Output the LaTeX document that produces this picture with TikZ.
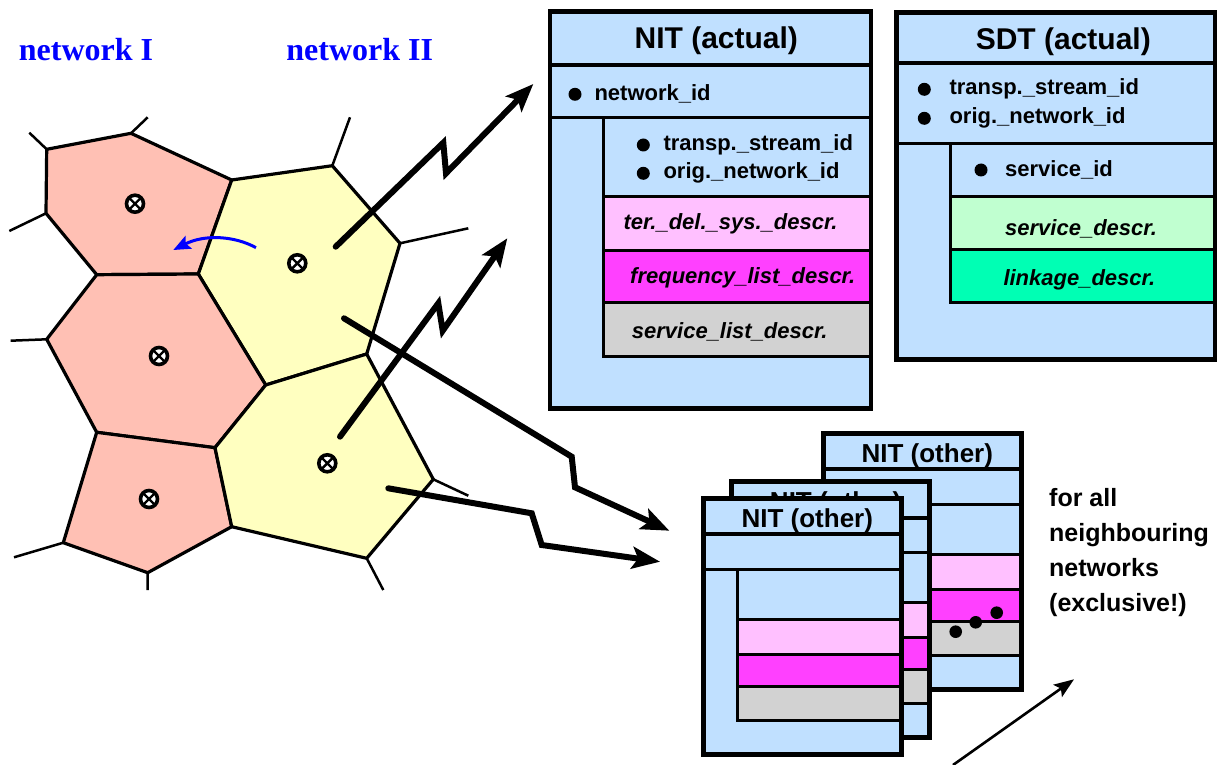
\documentclass[tikz,border=0pt]{standalone}
\usepackage{fontspec}
\setmainfont{Liberation Sans}
\newfontfamily\netserif{Liberation Serif}
\usetikzlibrary{arrows.meta}
\definecolor{boxblue}{RGB}{192,224,255}
\definecolor{pinkrow}{RGB}{255,192,255}
\definecolor{magrow}{RGB}{255,64,255}
\definecolor{grayrow}{RGB}{210,210,210}
\definecolor{greenrow}{RGB}{192,255,208}
\definecolor{tealrow}{RGB}{0,255,180}
\definecolor{cellpink}{RGB}{255,192,180}
\definecolor{cellyellow}{RGB}{255,255,192}
\definecolor{netblue}{RGB}{0,0,255}
\tikzset{
  cellline/.style={draw=black, line width=3.2pt, line join=miter},
  spurline/.style={line width=2.5pt},
  antenna/.style={circle, draw=black, fill=white, line width=3.6pt, minimum size=17pt, inner sep=0pt,
    path picture={\draw[line width=2.4pt] (path picture bounding box.south west) -- (path picture bounding box.north east)
      (path picture bounding box.north west) -- (path picture bounding box.south east);}},
  boxline/.style={line width=4.6pt, line join=miter},
  headline/.style={line width=4pt},
  rowline/.style={line width=3pt},
  titletext/.style={inner sep=0pt, anchor=base, font=\fontsize{30}{36}\selectfont\bfseries},
  othertitle/.style={inner sep=0pt, anchor=base, font=\fontsize{26}{31}\selectfont\bfseries},
  itemtext/.style={inner sep=0pt, anchor=west, font=\fontsize{22}{26}\selectfont\bfseries},
  desctext/.style={inner sep=0pt, anchor=west, font=\fontsize{22}{26}\selectfont\bfseries\itshape},
  nettext/.style={inner sep=0pt, anchor=base, text=netblue, font=\fontsize{32}{38}\selectfont\netserif\bfseries},
  bolt/.style={line width=6pt, line cap=round, line join=miter, -{Stealth[length=28pt,width=22pt,inset=6pt]}},
  nitother/.pic={
    \draw[boxline, fill=boxblue] (0,0) rectangle (198,256);
    \draw[headline] (0,36) -- (198,36);
    \draw[rowline] (0,71) -- (198,71);
    \draw[rowline, fill=pinkrow] (34,121) rectangle (198,156);
    \draw[rowline, fill=magrow] (34,156) rectangle (198,188);
    \draw[rowline, fill=grayrow] (34,188) rectangle (198,222);
    \draw[rowline] (34,71) -- (34,222);
    \draw[boxline] (0,0) rectangle (198,256);
    \node[othertitle] (-title) at (104,29) {NIT (other)};
  }
}
\begin{document}
\begin{tikzpicture}[x=1pt,y=-1pt]
\useasboundingbox (0,0) rectangle (1224,765);

% ---------- cells ----------
\coordinate (A) at (46.7,149.3);
\coordinate (B) at (131,133.3);
\coordinate (C) at (231.7,180);
\coordinate (D) at (198.3,274);
\coordinate (E) at (96.7,274.7);
\coordinate (F) at (46,213.3);
\coordinate (G) at (332.3,165.7);
\coordinate (H) at (400,243.3);
\coordinate (I) at (366.7,354);
\coordinate (J) at (265.7,385);
\coordinate (K) at (215,447.7);
\coordinate (L) at (96.7,432.3);
\coordinate (M) at (46.7,339.3);
\coordinate (N) at (231.7,526.7);
\coordinate (O) at (147.7,572.7);
\coordinate (P) at (63.3,542.7);
\coordinate (Q) at (433.3,479.3);
\coordinate (R) at (366.7,558.3);

\filldraw[cellline, fill=cellpink] (A) -- (B) -- (C) -- (D) -- (E) -- (F) -- cycle;
\filldraw[cellline, fill=cellyellow] (C) -- (G) -- (H) -- (I) -- (J) -- (D) -- cycle;
\filldraw[cellline, fill=cellpink] (E) -- (D) -- (J) -- (K) -- (L) -- (M) -- cycle;
\filldraw[cellline, fill=cellpink] (L) -- (K) -- (N) -- (O) -- (P) -- cycle;
\filldraw[cellline, fill=cellyellow] (J) -- (I) -- (Q) -- (R) -- (N) -- (K) -- cycle;

\coordinate (sA) at (29.3,132.7);
\coordinate (sB) at (147.7,117.3);
\coordinate (sF) at (9.3,231);
\coordinate (sG) at (350,117.3);
\coordinate (sH) at (468.3,228.3);
\coordinate (sM) at (10.7,340.7);
\coordinate (sP) at (14,557.3);
\coordinate (sO) at (147.7,590);
\coordinate (sQ) at (468.3,495.7);
\coordinate (sR) at (383.3,590);
\draw[spurline] (A) -- (sA) (B) -- (sB) (F) -- (sF) (G) -- (sG) (H) -- (sH)
  (M) -- (sM) (P) -- (sP) (O) -- (sO) (Q) -- (sQ) (R) -- (sR);

\node[antenna] (ant1) at (135,203.7) {};
\node[antenna] (ant2) at (297.3,263.3) {};
\node[antenna] (ant3) at (159,356) {};
\node[antenna] (ant4) at (149,499) {};
\node[antenna] (ant5) at (327.3,463.3) {};

\node[nettext] (net1) at (86,61) {network I};
\node[nettext] (net2) at (359.7,61) {network II};

\coordinate (bs) at (256,247.7);
\coordinate (be) at (173.3,250);
\draw[netblue, line width=3pt, -{Stealth[length=17pt,width=14pt,inset=3pt]}]
  (bs) .. controls (235,236) and (205,234) .. (be);

% ---------- NIT (actual) ----------
\draw[boxline, fill=boxblue] (550,11.7) rectangle (871,408.3);
\draw[headline] (550,65) -- (871,65);
\draw[rowline] (550,117.3) -- (871,117.3);
\draw[rowline] (603.3,196.7) -- (871,196.7);
\draw[rowline, fill=pinkrow] (603.3,196.7) rectangle (871,250);
\draw[rowline, fill=magrow] (603.3,250) rectangle (871,302.3);
\draw[rowline, fill=grayrow] (603.3,302.3) rectangle (871,356);
\draw[rowline] (603.3,117.3) -- (603.3,356);
\draw[boxline] (550,11.7) rectangle (871,408.3);
\node[titletext] (nitA) at (716.3,48.3) {NIT (actual)};
\fill (575,94.3) circle (6.5) (643.3,145) circle (6.5) (643.3,173.3) circle (6.5);
\node[itemtext] (nid) at (594.3,94.3) {network\_id};
\node[itemtext] (tsid1) at (663.3,145) {transp.\_stream\_id};
\node[itemtext] (onid1) at (663.3,173.3) {orig.\_network\_id};
\node[desctext] (terd) at (623.3,224) {ter.\_del.\_sys.\_descr.};
\node[desctext] (freq) at (630,278.3) {frequency\_list\_descr.};
\node[desctext] (svl) at (631.7,331.7) {service\_list\_descr.};

% ---------- SDT (actual) ----------
\draw[boxline, fill=boxblue] (896.7,12.7) rectangle (1215,359.3);
\draw[headline] (896.7,62.7) -- (1215,62.7);
\draw[rowline] (896.7,143.3) -- (1215,143.3);
\draw[rowline, fill=greenrow] (950.7,196.7) rectangle (1215,249.3);
\draw[rowline, fill=tealrow] (950.7,249.3) rectangle (1215,302.7);
\draw[rowline] (950.7,143.3) -- (950.7,302.7);
\draw[boxline] (896.7,12.7) rectangle (1215,359.3);
\node[titletext] (sdtA) at (1063.3,50) {SDT (actual)};
\fill (924.3,89.3) circle (6.5) (924.3,118.3) circle (6.5) (981,170) circle (6.5);
\node[itemtext] (tsid2) at (949.3,89.3) {transp.\_stream\_id};
\node[itemtext] (onid2) at (949.3,118.3) {orig.\_network\_id};
\node[itemtext] (sid) at (1005,170) {service\_id};
\node[desctext] (sdesc) at (1005,229.3) {service\_descr.};
\node[desctext] (ldesc) at (1003.3,280) {linkage\_descr.};

% ---------- NIT (other) stack ----------
\pic (back) at (823.3,433.3) {nitother};
\fill (955.7,631.7) circle (6.3) (975.7,622.3) circle (6.3) (996.7,612.7) circle (6.3);
\pic (mid) at (731.7,481.7) {nitother};
\pic (front) at (703.3,498.3) {nitother};

\node[inner sep=0pt, anchor=north west, align=left, font=\fontsize{25}{35}\selectfont\bfseries]
  (note) at (1049,488) {for all\\neighbouring\\networks\\(exclusive!)};

% ---------- transmission arrows ----------
\coordinate (t1s) at (335.7,246.7);
\coordinate (t1a) at (443.3,142.7);
\coordinate (t1b) at (446,173.3);
\coordinate (t1e) at (533.3,84);
\draw[bolt] (t1s) -- (t1a) -- (t1b) -- (t1e);

\coordinate (t2s) at (340,436.7);
\coordinate (t2a) at (438.3,303.3);
\coordinate (t2b) at (442.7,330.7);
\coordinate (t2e) at (507.3,238.3);
\draw[bolt] (t2s) -- (t2a) -- (t2b) -- (t2e);

\coordinate (t3s) at (344,318.3);
\coordinate (t3a) at (571.7,456.7);
\coordinate (t3b) at (575,487.3);
\coordinate (t3e) at (669.3,530.7);
\draw[bolt] (t3s) -- (t3a) -- (t3b) -- (t3e);

\coordinate (t4s) at (388.3,488.3);
\coordinate (t4a) at (531.7,513.3);
\coordinate (t4b) at (541.7,545);
\coordinate (t4e) at (660,561.7);
\draw[bolt] (t4s) -- (t4a) -- (t4b) -- (t4e);

\coordinate (ps) at (953,765);
\coordinate (pe) at (1074,679.3);
\draw[line width=2.6pt, -{Stealth[length=20pt,width=15pt,inset=4pt]}] (ps) -- (pe);
\end{tikzpicture}
\end{document}
